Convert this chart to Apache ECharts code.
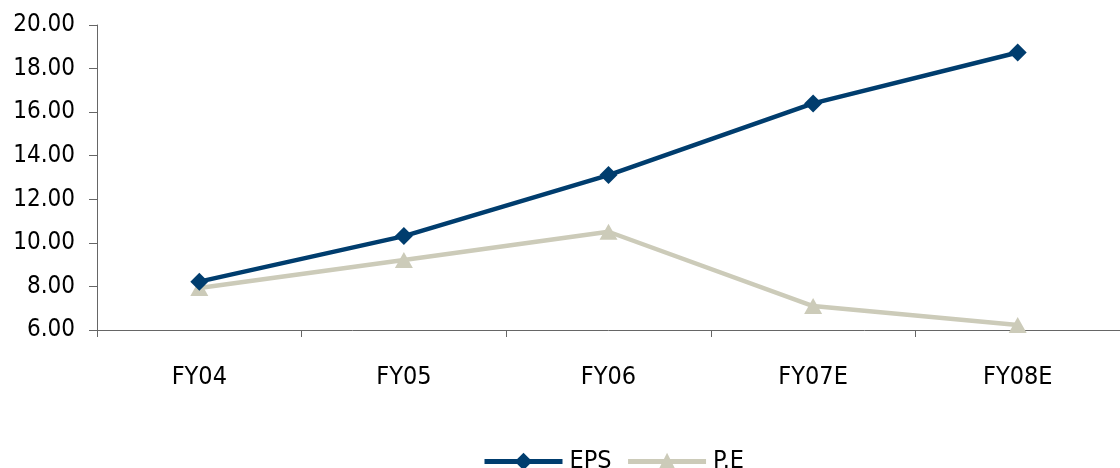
<!DOCTYPE html>
<html>
<head>
<meta charset="utf-8">
<script src="https://cdn.jsdelivr.net/npm/echarts@6/dist/echarts.min.js"></script>
<style>
  html, body { margin: 0; padding: 0; background: #fff; }
  #chart { width: 1120px; height: 468px; }
</style>
</head>
<body>
<div id="chart"></div>
<script>
// Fiscal years on the category axis
const categories = ['FY04', 'FY05', 'FY06', 'FY07E', 'FY08E'];
// Earnings per share
const epsValues = [8.22, 10.31, 13.11, 16.40, 18.74];
// Price / earnings ratio
const peValues = [7.93, 9.21, 10.51, 7.10, 6.23];
// Value axis range and step
const yMin = 6, yMax = 20, yStep = 2;

const FONT = '"DejaVu Sans Condensed", "Liberation Sans Narrow", sans-serif';
const EPS_COLOR = '#003d6e';
const PE_COLOR = '#cccbb9';
const chart = echarts.init(document.getElementById('chart'), null, { renderer: 'canvas' });

chart.setOption({
  animation: false,
  backgroundColor: '#ffffff',
  grid: { left: 97, top: 25, width: 1031, height: 305, containLabel: false },
  legend: {
    top: 444,
    left: 477,
    itemWidth: 78,
    itemHeight: 22,
    itemGap: 14,
    textStyle: { fontFamily: FONT, fontSize: 25, color: '#000', padding: [0, 0, 0, 2] },
    data: [
      { name: 'EPS', lineStyle: { width: 5, color: EPS_COLOR } },
      { name: 'P.E', lineStyle: { width: 5, color: PE_COLOR } }
    ]
  },
  xAxis: {
    type: 'category',
    data: categories,
    boundaryGap: true,
    axisLine: { lineStyle: { color: '#666', width: 1 } },
    axisTick: { show: true, length: 7, alignWithLabel: false, lineStyle: { color: '#666' } },
    axisLabel: { margin: 35, fontFamily: FONT, fontSize: 25, color: '#000' },
    splitLine: { show: false }
  },
  yAxis: {
    type: 'value',
    min: yMin,
    max: yMax,
    interval: yStep,
    axisLine: { show: true, lineStyle: { color: '#666', width: 1 } },
    axisTick: { show: true, length: 8, lineStyle: { color: '#666' } },
    axisLabel: {
      margin: 22,
      fontFamily: FONT,
      fontSize: 24,
      color: '#000',
      formatter: v => v.toFixed(2)
    },
    splitLine: { show: false }
  },
  series: [
    {
      name: 'EPS',
      type: 'line',
      data: epsValues,
      symbol: 'diamond',
      symbolSize: 18,
      lineStyle: { color: EPS_COLOR, width: 4.5 },
      itemStyle: { color: EPS_COLOR },
      z: 3
    },
    {
      name: 'P.E',
      type: 'line',
      data: peValues,
      symbol: 'triangle',
      symbolSize: [18, 16],
      lineStyle: { color: PE_COLOR, width: 4.5 },
      itemStyle: { color: PE_COLOR },
      z: 2
    }
  ]
});
</script>
</body>
</html>
